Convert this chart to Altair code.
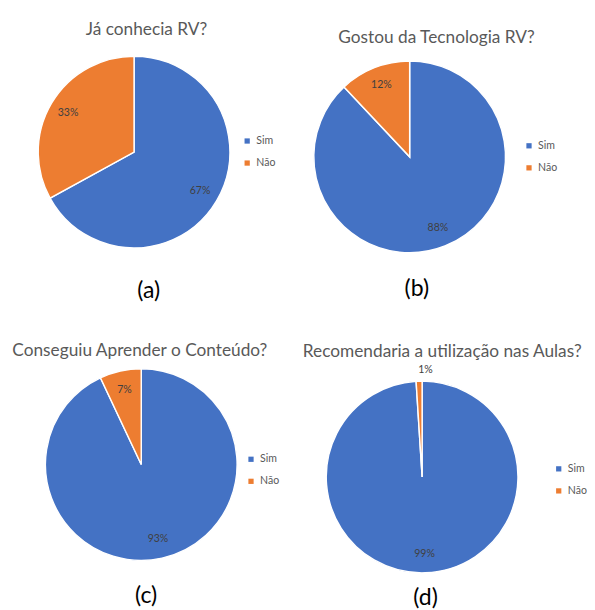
import altair as alt
import pandas as pd

categorias = ["Sim", "Não"]
perguntas = [
    "Já conhecia RV?",
    "Gostou da Tecnologia RV?",
    "Conseguiu Aprender o Conteúdo?",
    "Recomendaria a utilização nas Aulas?",
]
legendas = ["(a)", "(b)", "(c)", "(d)"]
sim = [67, 88, 93, 99]
nao = [33, 12, 7, 1]

cores = ["#4472C4", "#ED7D31"]
FONTE = "Lato"

# layout per panel:
# (panel width, panel height, title offset, title dx, legendX, legendY, caption offset, caption dx)
ajustes = [
    (185, 200, 15, 13, 205, 83, 30, -7),
    (200, 210, 10, 28, 219, 88, 21, -18),
    (200, 200, 6, -1.5, 209, 89, 22, 0.5),
    (200, 226, 3, 21, 237, 99, 1, -20),
]


def painel(i):
    w, h, t_off, t_dx, leg_x, leg_y, c_off, c_dx = ajustes[i]
    df = pd.DataFrame({
        "resposta": categorias,
        "pct": [sim[i], nao[i]],
        "ordem": [0, 1],
    })
    df["rotulo"] = df["pct"].astype(str) + "%"
    base = alt.Chart(df).encode(
        theta=alt.Theta("pct:Q", stack=True),
        order=alt.Order("ordem:Q"),
    )
    arco = base.mark_arc(outerRadius=100, stroke="white", strokeWidth=1.5).encode(
        color=alt.Color(
            "resposta:N",
            scale=alt.Scale(domain=categorias, range=cores),
            sort=categorias,
            legend=alt.Legend(
                title=None, orient="none", legendX=leg_x, legendY=leg_y,
                symbolType="square", symbolSize=30, labelFontSize=11,
                labelColor="#595959", labelFont=FONTE, rowPadding=11,
                symbolStrokeWidth=0,
            ),
        )
    )
    dentro = base.mark_text(radius=80, fontSize=11, color="#404040", font=FONTE).encode(
        text="rotulo:N"
    ).transform_filter("datum.pct >= 5")
    fora = base.mark_text(radius=112, fontSize=11, color="#404040", font=FONTE).encode(
        text="rotulo:N"
    ).transform_filter("datum.pct < 5")
    camada = alt.layer(arco, dentro, fora).properties(
        width=w, height=h,
        title=alt.TitleParams(
            perguntas[i], fontSize=18, font=FONTE, color="#595959",
            fontWeight="normal", offset=t_off, dx=t_dx, anchor="middle",
        ),
    )
    return alt.vconcat(
        camada,
        title=alt.TitleParams(
            legendas[i], orient="bottom", fontSize=24, font=FONTE, color="black",
            fontWeight="normal", offset=c_off, dx=c_dx, anchor="middle",
        ),
    )


linha1 = alt.hconcat(painel(0), painel(1), spacing=37).resolve_scale(color="independent")
linha2 = alt.hconcat(painel(2), painel(3), spacing=24).resolve_scale(color="independent")

chart = alt.vconcat(linha1, linha2, spacing=42).resolve_scale(
    color="independent"
).properties(
    padding={"left": 4, "top": 1, "right": 0, "bottom": 0}
).configure_view(stroke=None)

chart.save("out.html", embed_options={"renderer": "svg", "actions": False})
